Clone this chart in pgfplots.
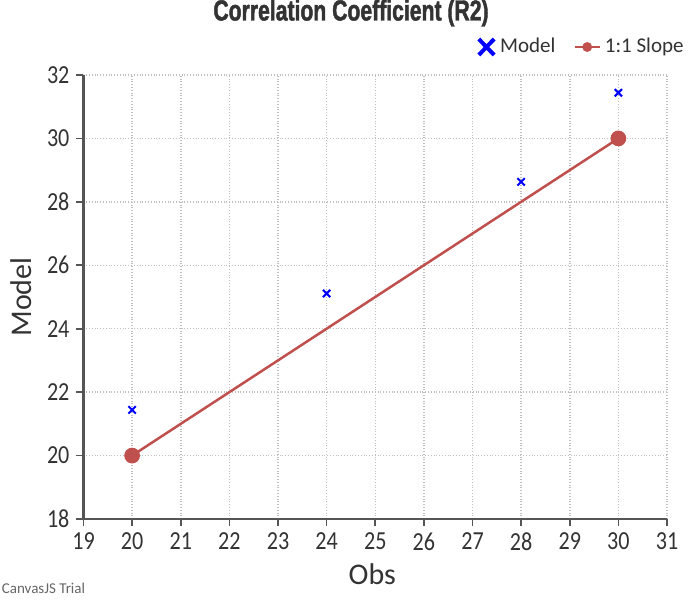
\documentclass[border=0pt]{standalone}
\usepackage{fontspec}
\setmainfont{Carlito}
\newfontfamily\tickfont{Carlito}[FakeStretch=0.85]
\newfontfamily\titlefont{Liberation Sans}[FakeStretch=0.73, FakeBold=1.5]
\usepackage{pgfplots}
\pgfplotsset{compat=1.18}
\definecolor{slope}{RGB}{192,80,77}
\definecolor{axisgray}{RGB}{85,85,85}
\definecolor{txt}{RGB}{51,51,51}

\begin{document}
\begin{tikzpicture}
  \begin{axis}[
      name=ax,
      scale only axis,
      width=291.75pt,
      height=222pt,
      xmin=19, xmax=31,
      ymin=18, ymax=32,
      xtick={19,20,...,31},
      ytick={18,20,...,32},
      axis x line=bottom,
      axis y line=left,
      axis line style={-, axisgray, line width=1.2pt},
      tick align=outside,
      major tick length=3.5pt,
      tick style={axisgray, line width=0.8pt},
      grid=major,
      major grid style={densely dotted, black!25, line width=0.75pt},
      /pgf/number format/assume math mode=true,
      tick label style={font=\tickfont\fontsize{13}{13}\selectfont, text=txt},
      xlabel={Obs},
      ylabel={Model},
      label style={font=\fontsize{15}{15}\selectfont, text=txt},
      xlabel style={at={(axis description cs:0.495,-0.124)}, anchor=center},
      ylabel style={at={(axis description cs:-0.107,0.5)}, anchor=center},
      clip=false,
      legend columns=2,
      legend style={draw=none, fill=none, at={(axis description cs:1.036,1.063)},
        anchor=east, font=\fontsize{10.5}{10.5}\selectfont, text=txt,
        inner sep=0pt,
        /tikz/every odd column/.append style={column sep=0pt},
        /tikz/every even column/.append style={column sep=7pt}},
    ]
    \addplot[only marks, mark=x, mark size=2.6pt, blue, line width=1pt,
      legend image code/.code={\draw[blue, line width=2pt] (0cm,-0.14cm) -- (0.27cm,0.14cm) (0cm,0.14cm) -- (0.27cm,-0.14cm);}]
      coordinates {
        (20,21.44)
        (24,25.11)
        (28,28.63)
        (30,31.44)
      };
    \addlegendentry{Model}
    \addplot[slope, line width=1.25pt, mark=*, mark size=3.3pt,
      mark options={fill=slope, draw=slope},
      legend image code/.code={\draw[slope, line width=1.2pt] (0cm,0cm) -- (0.44cm,0cm); \fill[slope] (0.22cm,0cm) circle (1.8pt);}]
      coordinates {
        (20,20)
        (30,30)
      };
    \addlegendentry{1:1 Slope}
  \end{axis}
  \node[font=\titlefont\bfseries\fontsize{14.5}{14.5}\selectfont, text=black!80]
    at ([shift={(133.75pt,253pt)}]ax.south west) {Correlation Coefficient (R2)};
  \node[font=\fontsize{7.5}{7.5}\selectfont, text=black!60, anchor=base west, inner sep=0pt]
    at ([shift={(-41pt,-37.5pt)}]ax.south west) {CanvasJS Trial};
  \pgfresetboundingbox
  \path[use as bounding box] ([shift={(-41.75pt,-41.5pt)}]ax.south west)
    rectangle ([shift={(12pt,37.5pt)}]ax.north east);
\end{tikzpicture}
\end{document}
